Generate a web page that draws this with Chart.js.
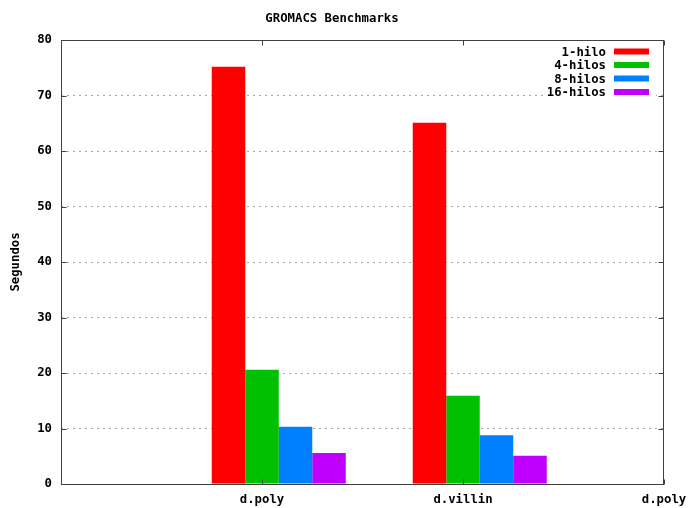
<!DOCTYPE html>
<html>
<head>
<meta charset="utf-8">
<script src="https://cdn.jsdelivr.net/npm/chart.js@4/dist/chart.umd.min.js"></script>
<style>
  html, body { margin: 0; padding: 0; background: #fff; }
</style>
</head>
<body>
<canvas id="chart" width="688" height="508"></canvas>
<script>
// Benchmark data: run time in seconds per input and thread count
const categories = ['d.poly', 'd.villin', 'd.poly'];
const seriesNames = ['1-hilo', '4-hilos', '8-hilos', '16-hilos'];
const hilo1   = [75.2, 65.1, null];
const hilos4  = [20.6, 15.9, null];
const hilos8  = [10.3,  8.8, null];
const hilos16 = [ 5.6,  5.1, null];
const yTickValues = [0, 10, 20, 30, 40, 50, 60, 70, 80];

const seriesValues = [hilo1, hilos4, hilos8, hilos16];
const seriesColors = ['#ff0000', '#00c000', '#0080ff', '#c000ff'];

// each cluster sits slightly right of its tick, as gnuplot histograms do
const CLUSTER_SHIFT = 1 / 12;
const FONT = { family: '"DejaVu Sans Mono", "Liberation Mono", monospace', size: 12.3, weight: 'bold' };
const fontStr = 'bold 12.3px "DejaVu Sans Mono", "Liberation Mono", monospace';

const datasets = seriesNames.map((name, s) => ({
  label: name,
  data: seriesValues[s].map((v, i) => ({ x: i + CLUSTER_SHIFT, y: v })),
  backgroundColor: seriesColors[s],
  borderWidth: 0,
  categoryPercentage: 2 / 3,
  barPercentage: 1
}));

// frame, inward tick marks and the boxed key in the top-right corner
const framePlugin = {
  id: 'frameAndKey',
  afterDatasetsDraw(chart) {
    const { ctx, chartArea: a, scales } = chart;
    const L = Math.round(a.left) + 0.5, R = Math.round(a.right) - 0.5;
    const T = Math.round(a.top) + 0.5, B = Math.round(a.bottom) + 0.5;
    ctx.save();

    // key with opaque background
    const textRight = 606, sampleL = 614, sampleR = 649;
    const rowY = [51.5, 65, 78.5, 92];
    ctx.font = fontStr;
    let maxW = 0;
    chart.data.datasets.forEach(d => { maxW = Math.max(maxW, ctx.measureText(d.label).width); });
    ctx.fillStyle = '#fff';
    ctx.fillRect(textRight - maxW - 3, rowY[0] - 7, sampleR + 7 - (textRight - maxW - 3), rowY[3] - rowY[0] + 14);
    ctx.textAlign = 'right';
    ctx.textBaseline = 'middle';
    chart.data.datasets.forEach((d, i) => {
      ctx.fillStyle = '#000';
      ctx.fillText(d.label, textRight, rowY[i] + 1);
      ctx.fillStyle = d.backgroundColor;
      ctx.fillRect(sampleL, rowY[i] - 3, sampleR - sampleL, 6);
    });

    // border
    ctx.strokeStyle = '#404040';
    ctx.lineWidth = 1;
    ctx.strokeRect(L, T, R - L, B - T);

    // tick marks pointing into the plot, mirrored on opposite sides
    ctx.beginPath();
    scales.y.ticks.forEach(t => {
      const y = Math.round(scales.y.getPixelForValue(t.value)) + 0.5;
      ctx.moveTo(L, y); ctx.lineTo(L + 5, y);
      ctx.moveTo(R, y); ctx.lineTo(R - 5, y);
    });
    scales.x.ticks.forEach(t => {
      const x = Math.round(scales.x.getPixelForValue(t.value)) + 0.5;
      ctx.moveTo(x, B); ctx.lineTo(x, B - 5);
      ctx.moveTo(x, T); ctx.lineTo(x, T + 5);
    });
    ctx.stroke();
    ctx.restore();
  }
};

new Chart(document.getElementById('chart'), {
  type: 'bar',
  data: { datasets },
  plugins: [framePlugin],
  options: {
    responsive: false,
    animation: false,
    devicePixelRatio: 1,
    layout: { padding: { left: 0, right: 24, top: 0, bottom: 0 } },
    plugins: {
      legend: { display: false },
      tooltip: { enabled: false },
      title: {
        display: true,
        text: 'GROMACS Benchmarks',
        color: '#000',
        font: FONT,
        padding: { top: 11, bottom: 14.24 }
      }
    },
    scales: {
      x: {
        type: 'linear',
        offset: false,
        min: -1,
        max: categories.length - 1,
        grid: { display: false, drawTicks: false, offset: false },
        border: { display: false },
        afterBuildTicks(scale) {
          scale.ticks = categories.map((_, i) => ({ value: i }));
        },
        ticks: {
          autoSkip: false,
          maxRotation: 0,
          padding: 8,
          color: '#000',
          font: FONT,
          callback: (v) => categories[v] ?? ''
        },
        afterFit(scale) {
          scale.height = 24;
          scale.paddingLeft = 0;
          scale.paddingRight = 0;
        }
      },
      y: {
        min: 0,
        max: 80,
        afterBuildTicks(scale) {
          scale.ticks = yTickValues.map(v => ({ value: v }));
        },
        grid: { color: '#a8a8a8', lineWidth: 1, drawTicks: false },
        border: { display: false, dash: [2, 4] },
        ticks: {
          padding: 9,
          color: '#000',
          font: FONT
        },
        title: {
          display: true,
          text: 'Segundos',
          color: '#000',
          font: FONT,
          padding: { top: 8, bottom: 0 }
        },
        afterFit(scale) {
          scale.width = 61;
          scale.paddingTop = 0;
          scale.paddingBottom = 0;
        }
      }
    }
  }
});
</script>
</body>
</html>
